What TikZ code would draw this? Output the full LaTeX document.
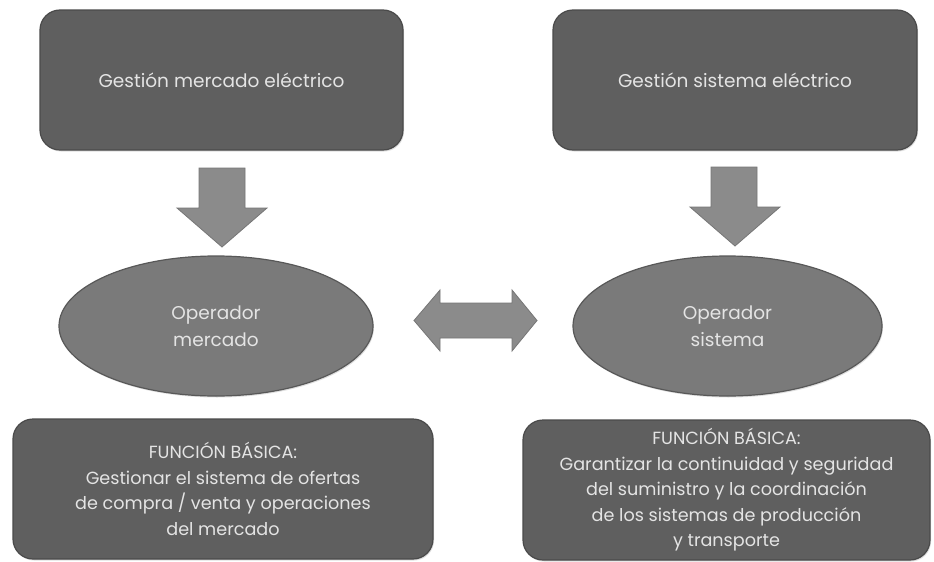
\documentclass[tikz,border=0pt]{standalone}
\usepackage{fontspec}
\setmainfont{Poppins}
\usetikzlibrary{shapes.geometric,shadows}
\definecolor{boxgray}{HTML}{5F5F5F}
\definecolor{ellgray}{HTML}{7A7A7A}
\definecolor{arrgray}{HTML}{8B8B8B}
\definecolor{edgegray}{HTML}{4A4A4A}
\definecolor{txtgray}{HTML}{E4E4E4}
\tikzset{
  darkbox/.style={rectangle, rounded corners=20pt, fill=boxgray, draw=edgegray, line width=1.2pt,
    text=txtgray, align=center, inner sep=0pt,
    drop shadow={opacity=0.25, shadow xshift=1pt, shadow yshift=-1.5pt}},
  opell/.style={ellipse, fill=ellgray, draw=edgegray!70!ellgray, line width=1.2pt,
    text=txtgray, align=center, inner sep=0pt,
    drop shadow={opacity=0.25, shadow xshift=1pt, shadow yshift=-1.5pt}},
  blockarrow/.style={fill=arrgray, draw=arrgray!85!black, line width=0.8pt},
  maintext/.style={font=\fontsize{18.5}{27}\selectfont},
  bodytext/.style={font=\fontsize{17.6}{25.5}\selectfont},
}
\begin{document}
\begin{tikzpicture}[x=1pt,y=-1pt]
\useasboundingbox (0,0) rectangle (934,562);
\fill[white] (0,0) rectangle (934,562);

\node[darkbox, maintext, minimum width=363pt, minimum height=140pt] (gm) at (221.5,80) {Gestión mercado eléctrico};
\node[darkbox, maintext, minimum width=364pt, minimum height=140pt] (gs) at (735,80) {Gestión sistema eléctrico};

\node[opell, maintext, minimum width=314pt, minimum height=140pt] (om) at (216,326) {Operador\\mercado};
\node[opell, maintext, minimum width=309pt, minimum height=140pt] (os) at (727.5,326) {Operador\\sistema};

\node[darkbox, bodytext, minimum width=420pt, minimum height=140pt] (fm) at (223,489)
  {FUNCIÓN BÁSICA:\\Gestionar el sistema de ofertas\\de compra / venta y operaciones\\del mercado};
\node[darkbox, bodytext, minimum width=407pt, minimum height=140pt] (fs) at (726.5,490)
  {FUNCIÓN BÁSICA:\\Garantizar la continuidad y seguridad\\del suministro y la coordinación\\de los sistemas de producción\\y transporte};

% block arrows
\draw[blockarrow] (199,168) -- (245,168) -- (245,208) -- (267,208) -- (222,247) -- (177,208) -- (199,208) -- cycle;
\draw[blockarrow] (711,167) -- (757,167) -- (757,207) -- (780,207) -- (735,246) -- (690,207) -- (711,207) -- cycle;
\draw[blockarrow] (414,320.5) -- (440,290) -- (440,303) -- (512,303) -- (512,290) -- (537,320.5)
  -- (512,351) -- (512,338) -- (440,338) -- (440,351) -- cycle;
\end{tikzpicture}
\end{document}
